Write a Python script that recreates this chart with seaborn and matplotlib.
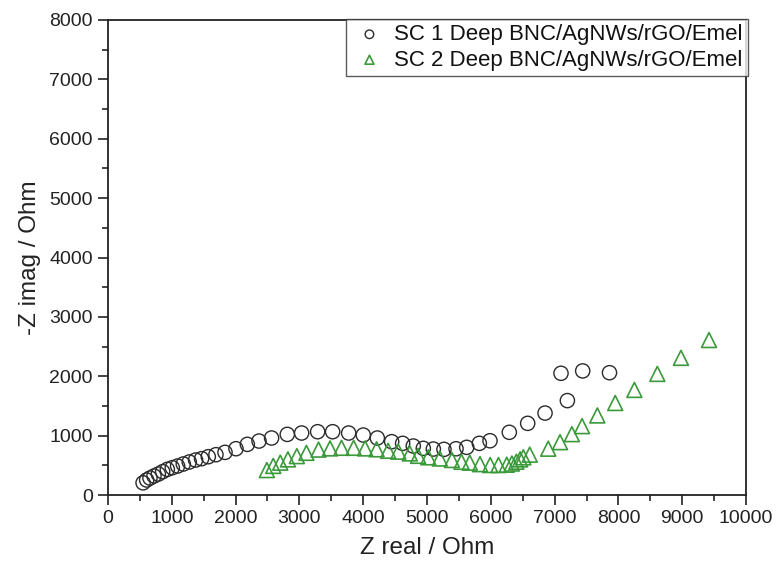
import numpy as np
import pandas as pd
import matplotlib
matplotlib.use("Agg")
import matplotlib.pyplot as plt
from matplotlib.ticker import MultipleLocator
import seaborn as sns

# --- data ---
sc1_x = [550, 606, 658, 721, 789, 857, 930, 1008, 1091, 1180, 1274, 1373, 1467, 1572,
         1692, 1834, 2006, 2184, 2367, 2564, 2810, 3035, 3286, 3521, 3772, 4001, 4221,
         4446, 4618, 4785, 4942, 5099, 5266, 5455, 5622, 5820, 5987, 6290, 6578, 6850,
         7200, 7100, 7440, 7860]
sc1_y = [205, 253, 286, 320, 353, 393, 432, 460, 488, 522, 556, 589, 612, 645,
         679, 718, 780, 853, 909, 960, 1021, 1044, 1066, 1066, 1044, 1010, 960,
         898, 870, 825, 786, 774, 769, 779, 803, 870, 914, 1056, 1207, 1380,
         1590, 2050, 2090, 2060]

sc2_x = [2490, 2590, 2700, 2820, 2960, 3110, 3300, 3480, 3660, 3850, 4030, 4210, 4390,
         4550, 4730, 4860, 5020, 5200, 5390, 5540, 5670, 5830, 5990, 6120, 6250, 6330,
         6400, 6460, 6510, 6610, 6900, 7085, 7270, 7430, 7670, 7950, 8250, 8610, 8980, 9420]
sc2_y = [420, 490, 545, 600, 655, 710, 765, 785, 795, 795, 785, 770, 745,
         730, 700, 660, 635, 615, 590, 560, 545, 520, 505, 505, 510, 530,
         560, 600, 635, 680, 780, 890, 1025, 1160, 1340, 1550, 1770, 2040, 2310, 2610]

label1 = "SC 1 Deep BNC/AgNWs/rGO/Emel"
label2 = "SC 2 Deep BNC/AgNWs/rGO/Emel"

df1 = pd.DataFrame({"x": sc1_x, "y": sc1_y})
df2 = pd.DataFrame({"x": sc2_x, "y": sc2_y})

sns.set_style("white")
plt.rcParams['font.family'] = ['Liberation Sans', 'DejaVu Sans']

fig = plt.figure(figsize=(7.78, 5.68), dpi=100)
ax = fig.add_axes([0.1388, 0.1285, 0.8201, 0.8363])

c1 = "#2b2b2b"
c2 = "#3a9a3a"
sns.scatterplot(data=df1, x="x", y="y", marker="o", s=105, facecolor="none",
                edgecolor=c1, linewidth=1.0, label=label1, ax=ax, zorder=3)
sns.scatterplot(data=df2, x="x", y="y", marker="^", s=115, facecolor="none",
                edgecolor=c2, linewidth=1.2, label=label2, ax=ax, zorder=3)

ax.set_xlim(0, 10000)
ax.set_ylim(0, 8000)
ax.xaxis.set_major_locator(MultipleLocator(1000))
ax.xaxis.set_minor_locator(MultipleLocator(500))
ax.yaxis.set_major_locator(MultipleLocator(1000))
ax.yaxis.set_minor_locator(MultipleLocator(500))
ax.tick_params(axis="both", which="major", direction="out", length=7, width=1.2,
               labelsize=14, colors="#222222", bottom=True, left=True, pad=4)
ax.tick_params(axis="both", which="minor", direction="out", length=4, width=1.2,
               bottom=True, left=True)
ax.tick_params(top=False, right=False, which="both")
for sp in ax.spines.values():
    sp.set_visible(True)
    sp.set_color("#222222")
    sp.set_linewidth(1.3)

ax.set_xlabel("Z real / Ohm", fontsize=17.5, color="#222222", labelpad=7)
ax.set_ylabel("-Z imag / Ohm", fontsize=17.5, color="#222222", labelpad=6)

leg = ax.legend(loc="upper right", bbox_to_anchor=(1.003, 1.003), borderaxespad=0,
                fontsize=16, frameon=True, fancybox=False, markerscale=0.6,
                handletextpad=0.3, borderpad=0.25, labelspacing=0.2, handlelength=1.6)
leg.get_frame().set_edgecolor("#333333")
leg.get_frame().set_linewidth(1.0)
for t in leg.get_texts():
    t.set_color("#111111")

fig.savefig("out.png", dpi=100, facecolor="white")
